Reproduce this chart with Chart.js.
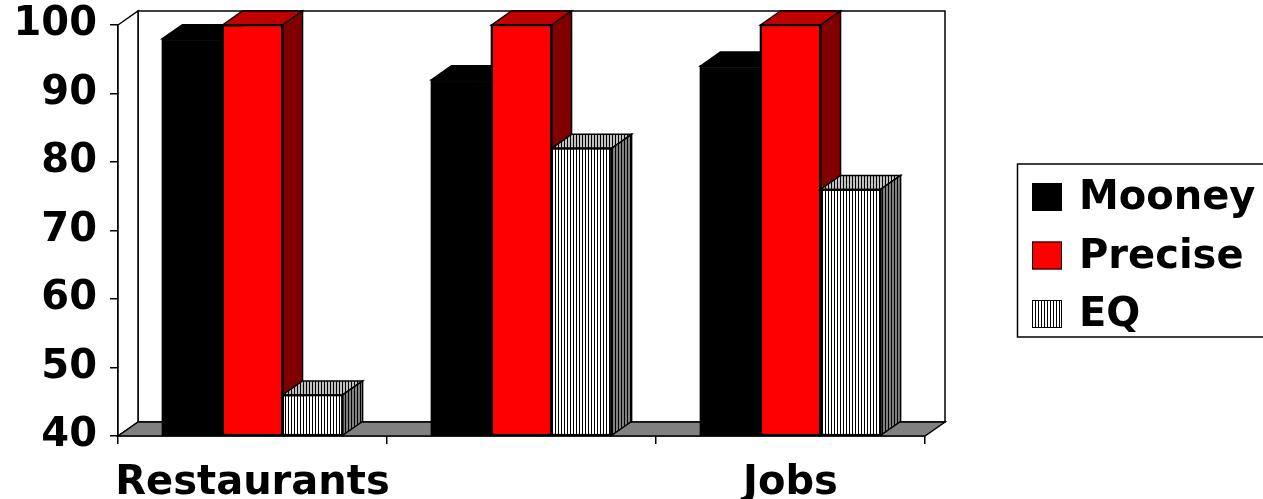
<!DOCTYPE html>
<html>
<head>
<meta charset="utf-8">
<script src="https://cdn.jsdelivr.net/npm/chart.js@4/dist/chart.umd.min.js"></script>
<style>
  html, body { margin: 0; padding: 0; background: #fff; overflow: hidden; }
  canvas { display: block; }
</style>
</head>
<body>
<canvas id="chart" width="1263" height="499"></canvas>
<script>
// Categories and series values
const categories = ['Restaurants', '', 'Jobs'];
const seriesNames = ['Mooney', 'Precise', 'EQ'];
const mooneyValues = [98, 92, 94];
const preciseValues = [100, 100, 100];
const eqValues = [46, 82, 76];
const yMin = 40;
const yMax = 100;
const yStep = 10;

// Drawing styles
const FONT = { family: "'DejaVu Sans', Verdana, sans-serif", size: 40, weight: 'bold' };
const DEPTH = { dx: 20, dy: -14 };
const LINE = 1.5;

const canvas = document.getElementById('chart');
const ctx0 = canvas.getContext('2d');

// Vertical hatching used by the EQ series
function stripes(bg, period) {
  const c = document.createElement('canvas');
  c.width = period; c.height = 8;
  const g = c.getContext('2d');
  g.fillStyle = bg; g.fillRect(0, 0, period, 8);
  g.fillStyle = '#000'; g.fillRect(0, 0, 1, 8);
  return ctx0.createPattern(c, 'repeat');
}

function poly(ctx, pts, fill) {
  ctx.beginPath();
  ctx.moveTo(pts[0][0], pts[0][1]);
  for (let i = 1; i < pts.length; i++) ctx.lineTo(pts[i][0], pts[i][1]);
  ctx.closePath();
  ctx.fillStyle = fill;
  ctx.fill();
  ctx.stroke();
}

// Walls, floor and the depth faces of each column
const box3d = {
  id: 'box3d',
  beforeDatasetsDraw(chart) {
    const { ctx, chartArea: a } = chart;
    const { dx, dy } = DEPTH;
    ctx.save();
    ctx.lineWidth = LINE; ctx.strokeStyle = '#000'; ctx.lineJoin = 'miter';
    poly(ctx, [[a.left + dx, a.top + dy], [a.right + dx, a.top + dy], [a.right + dx, a.bottom + dy], [a.left + dx, a.bottom + dy]], '#fff');
    poly(ctx, [[a.left, a.top], [a.left + dx, a.top + dy], [a.left + dx, a.bottom + dy], [a.left, a.bottom]], '#fff');
    poly(ctx, [[a.left, a.bottom], [a.left + dx, a.bottom + dy], [a.right + dx, a.bottom + dy], [a.right, a.bottom]], '#808080');
    ctx.restore();
  },
  // Columns are painted front face first, then top and right faces,
  // series by series so that each column hides its left neighbour's side.
  afterDatasetsDraw(chart) {
    const { ctx } = chart;
    const { dx, dy } = DEPTH;
    ctx.save();
    chart.data.datasets.forEach((ds, i) => {
      const meta = chart.getDatasetMeta(i);
      meta.data.forEach(bar => {
        bar.draw(ctx);
        const p = bar.getProps(['x', 'y', 'base', 'width'], true);
        const x1 = p.x - p.width / 2, x2 = p.x + p.width / 2;
        const y = p.y, base = p.base;
        ctx.lineWidth = LINE; ctx.strokeStyle = '#000'; ctx.lineJoin = 'miter';
        poly(ctx, [[x1, y], [x1 + dx, y + dy], [x2 + dx, y + dy], [x2, y]], ds.topColor);
        poly(ctx, [[x2, y], [x2 + dx, y + dy], [x2 + dx, base + dy], [x2, base]], ds.sideColor);
        ctx.beginPath();
        ctx.rect(x1, y, p.width, base - y);
        ctx.stroke();
      });
    });
    ctx.restore();
  }
};

// Boxed legend to the right of the plot
const boxedLegend = {
  id: 'boxedLegend',
  afterDraw(chart) {
    const { ctx, chartArea: a } = chart;
    const left = a.right + 92;
    const top = 164;
    ctx.save();
    ctx.lineWidth = LINE; ctx.strokeStyle = '#000';
    ctx.strokeRect(left + 0.5, top, 300, 173);
    ctx.font = `${FONT.weight} ${FONT.size}px ${FONT.family}`;
    ctx.textBaseline = 'middle';
    ctx.textAlign = 'left';
    chart.data.datasets.forEach((ds, i) => {
      const cy = top + 33 + i * 58.5;
      ctx.fillStyle = ds.backgroundColor;
      ctx.fillRect(left + 15, cy - 14, 30, 28);
      ctx.lineWidth = 1;
      ctx.strokeRect(left + 15.5, cy - 13.5, 29, 27);
      ctx.fillStyle = '#000';
      ctx.fillText(ds.label, left + 62, cy + 2);
    });
    ctx.restore();
  }
};

const common = { base: yMin, borderColor: '#000', borderWidth: LINE, borderSkipped: false, categoryPercentage: 0.67, barPercentage: 1 };

new Chart(canvas, {
  type: 'bar',
  data: {
    labels: categories,
    datasets: [
      Object.assign({ label: seriesNames[0], data: mooneyValues, backgroundColor: '#000000', topColor: '#000000', sideColor: '#000000' }, common),
      Object.assign({ label: seriesNames[1], data: preciseValues, backgroundColor: '#FF0000', topColor: '#C00000', sideColor: '#800000' }, common),
      Object.assign({ label: seriesNames[2], data: eqValues, backgroundColor: stripes('#ffffff', 3), topColor: stripes('#C0C0C0', 3), sideColor: stripes('#808080', 3) }, common)
    ]
  },
  options: {
    responsive: false,
    animation: false,
    devicePixelRatio: 1,
    layout: { padding: { top: 25, right: 338, left: 0, bottom: 0 } },
    plugins: { legend: { display: false }, tooltip: { enabled: false } },
    scales: {
      x: {
        grid: { display: true, drawOnChartArea: false, drawTicks: true, tickLength: 8, color: '#000', lineWidth: LINE, offset: true },
        border: { display: true, color: '#000', width: LINE },
        ticks: { color: '#000', font: FONT, padding: 16, autoSkip: false, maxRotation: 0 },
        afterFit(s) { s.height = 63; s.paddingLeft = 0; s.paddingRight = 0; }
      },
      y: {
        min: yMin, max: yMax,
        grid: { display: true, drawOnChartArea: false, drawTicks: true, tickLength: 8, color: '#000', lineWidth: LINE },
        border: { display: true, color: '#000', width: LINE },
        ticks: { stepSize: yStep, color: '#000', font: FONT, padding: 13 },
        afterFit(s) { s.width = 118; s.paddingTop = 0; s.paddingBottom = 0; }
      }
    }
  },
  plugins: [box3d, boxedLegend]
});
</script>
</body>
</html>
